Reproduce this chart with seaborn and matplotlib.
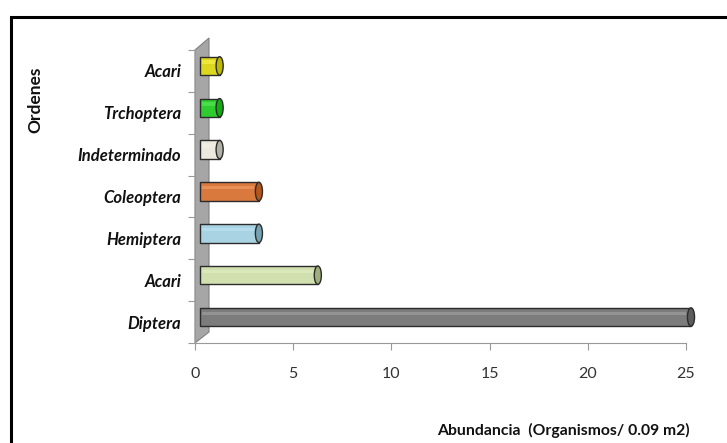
import matplotlib
matplotlib.use("Agg")
import matplotlib.pyplot as plt
import matplotlib.transforms as mtransforms
from matplotlib.patches import Ellipse, Polygon, Rectangle
from matplotlib.colors import to_rgb
import pandas as pd
import seaborn as sns

## DATA
ordenes = ["Acari", "Trchoptera", "Indeterminado", "Coleoptera", "Hemiptera", "Acari", "Diptera"]
abundancia = [1, 1, 1, 3, 3, 6, 25]
colores = ["#fbf600", "#14e614", "#eeecdc", "#f37324", "#9fd8ec", "#d5e8a8", "#7c7c7c"]
x_ticks = [0, 5, 10, 15, 20, 25]

df = pd.DataFrame({"pos": [str(i) for i in range(len(ordenes))],
                   "Orden": ordenes,
                   "Abundancia": abundancia})

## STYLE
sns.set_style("white")
plt.rcParams["font.family"] = ["Lato", "DejaVu Sans"]

W, H = 727, 443
fig = plt.figure(figsize=(W / 100, H / 100), dpi=100)
ax = fig.add_axes([195 / W, 1 - 343 / H, (686 - 195) / W, (343 - 50) / H])
ax.set_zorder(2)

def px(x, y):
    return (x / W, 1 - y / H)

# 3D wall behind the bars
wall = Polygon([px(195, 343), px(195, 50), px(209, 38), px(209, 332)],
               closed=True, transform=fig.transFigure, facecolor="#a6a6a6",
               edgecolor="#808080", lw=0.8, zorder=1)
fig.patches.append(wall)

# figure frame
fig.patches.append(Rectangle(px(11, 460), 1.0, 1.0, transform=fig.transFigure,
                             fill=False, edgecolor="black", lw=2.2, zorder=5))

## PLOT
sns.barplot(data=df, y="pos", x="Abundancia", hue="pos", palette=colores,
            orient="h", width=0.44, edgecolor="#2b2b2b", linewidth=1.0,
            legend=False, ax=ax, zorder=3)

# shift bars to the "3D" depth and add cylinder caps / highlight
shift = mtransforms.ScaledTranslation(5 / 100, 5 / 100, fig.dpi_scale_trans)
for i, patch in enumerate(list(ax.patches)):
    patch.set_transform(ax.transData + shift)
    patch.set_clip_on(False)
    val = abundancia[i]
    base = to_rgb(colores[i])
    light = tuple(min(1, c + (1 - c) * 0.35) for c in base)
    dark = tuple(c * 0.75 for c in base)
    hl = Rectangle((0.1, i - 0.13), max(val - 0.35, 0.05), 0.08,
                   facecolor=light, edgecolor="none", alpha=0.5,
                   transform=ax.transData + shift, zorder=3.5)
    hl.set_clip_on(False)
    ax.add_patch(hl)
    cap = Ellipse((val, i), 0.36, 0.44, facecolor=dark, edgecolor="#2b2b2b",
                  lw=1.0, transform=ax.transData + shift, zorder=4)
    cap.set_clip_on(False)
    ax.add_patch(cap)

ax.set_xlim(0, 25)
ax.set_ylim(6.5, -0.5)
ax.set_xticks(x_ticks)
ax.set_xticklabels([str(t) for t in x_ticks], fontsize=11.5, color="#333333")
ax.tick_params(axis="x", length=5, width=0.8, color="#999999", pad=12, bottom=True)

ax.set_yticks(range(len(ordenes)))
ax.set_yticklabels(ordenes, fontsize=12, fontweight="bold", fontstyle="italic",
                   color="#111111")
ax.set_yticks([i - 0.5 for i in range(len(ordenes) + 1)], minor=True)
ax.tick_params(axis="y", which="major", length=0, pad=10)
ax.tick_params(axis="y", which="minor", length=5, width=0.8, color="#999999", left=True)

for s in ["top", "right"]:
    ax.spines[s].set_visible(False)
for s in ["left", "bottom"]:
    ax.spines[s].set_color("#999999")
    ax.spines[s].set_linewidth(0.8)
ax.set_xlabel("")
ax.set_ylabel("")
ax.patch.set_alpha(0)

fig.text(690 / W, 1 - 430 / H, "Abundancia  (Organismos/ 0.09 m2)", ha="right",
         va="center", fontsize=11.3, fontweight="bold", color="#111111")
fig.text(35 / W, 1 - 100 / H, "Ordenes", rotation=90, ha="center", va="center",
         fontsize=12.5, fontweight="bold", color="#111111")

fig.savefig("out.png", dpi=100)
